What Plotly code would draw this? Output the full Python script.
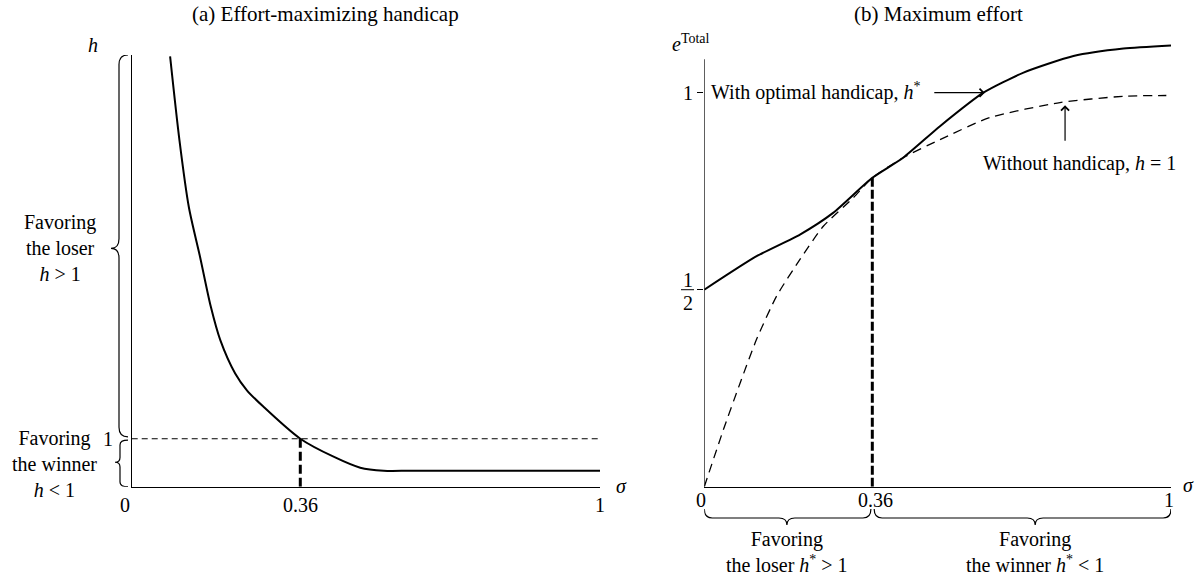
import plotly.graph_objects as go

W, H = 1196, 587
FONT = dict(family="Liberation Serif, Times New Roman, serif", size=20, color="black")

# ---------------- data ----------------
# Panel (a): effort-maximizing handicap h*(sigma)
sigma_a = [0.082, 0.102, 0.122, 0.146, 0.169, 0.189, 0.221, 0.246, 0.281, 0.36, 0.431, 0.488, 0.538, 0.6, 1.0]
h_opt = [8.97, 7.22, 5.83, 4.79, 3.75, 3.06, 2.36, 2.01, 1.67, 1.0, 0.625, 0.396, 0.333, 0.333, 0.333]

# Panel (b): maximum total effort
sigma_b = [0.0, 0.112, 0.205, 0.276, 0.36, 0.426, 0.505, 0.598, 0.684, 0.791, 0.898, 1.0]
e_opt = [0.5, 0.585, 0.640, 0.695, 0.784, 0.835, 0.915, 1.0, 1.051, 1.093, 1.112, 1.12]
sigma_nh = [0.0, 0.041, 0.077, 0.112, 0.155, 0.205, 0.255, 0.319, 0.36, 0.426, 0.505, 0.612, 0.762, 0.898, 0.99]
e_nh = [0.0, 0.145, 0.264, 0.374, 0.484, 0.577, 0.661, 0.733, 0.784, 0.835, 0.881, 0.937, 0.975, 0.991, 0.993]

sigma_star = 0.36
h_ref = 1.0
e_star = 0.784
x_tick_vals = [0, 0.36, 1]
x_tick_text = ["0", "0.36", "1"]


def px(x):
    return x / W


def py(y):
    return 1 - y / H


fig = go.Figure()

# ---- panel (a) ----
fig.add_trace(go.Scatter(x=[0, 1], y=[h_ref, h_ref], mode="lines", xaxis="x", yaxis="y",
                         line=dict(color="black", width=1.2, dash="6px,4px"), hoverinfo="skip"))
fig.add_trace(go.Scatter(x=[sigma_star, sigma_star], y=[0, h_ref], mode="lines", xaxis="x", yaxis="y",
                         line=dict(color="black", width=3, dash="9px,4px"), hoverinfo="skip"))
fig.add_trace(go.Scatter(x=sigma_a, y=h_opt, mode="lines", xaxis="x", yaxis="y",
                         line=dict(color="black", width=2, shape="spline", smoothing=0.8)))

# ---- panel (b) ----
fig.add_trace(go.Scatter(x=sigma_nh, y=e_nh, mode="lines", xaxis="x2", yaxis="y2",
                         line=dict(color="black", width=1.3, dash="9px,6px", shape="spline", smoothing=0.6)))
fig.add_trace(go.Scatter(x=[sigma_star, sigma_star], y=[0, e_star], mode="lines", xaxis="x2", yaxis="y2",
                         line=dict(color="black", width=3, dash="9px,3px"), hoverinfo="skip"))
fig.add_trace(go.Scatter(x=sigma_b, y=e_opt, mode="lines", xaxis="x2", yaxis="y2",
                         line=dict(color="black", width=2, shape="spline", smoothing=0.6)))

ax_common = dict(showgrid=False, zeroline=False, linecolor="black", linewidth=1,
                 fixedrange=True, showticklabels=False)
y_bottom = py(486.7)

fig.update_layout(
    width=W, height=H,
    margin=dict(l=0, r=0, t=0, b=0),
    paper_bgcolor="white", plot_bgcolor="white",
    showlegend=False,
    font=FONT,
    xaxis=dict(domain=[px(131.7), px(600)], range=[0, 1], anchor="y", showline=True, ticks="", **ax_common),
    yaxis=dict(domain=[y_bottom, py(55)], range=[0, 9], anchor="x", showline=True, ticks="", **ax_common),
    xaxis2=dict(domain=[px(704.3), px(1171)], range=[0, 1], anchor="y2", showline=True,
                ticks="inside", tickvals=[1], ticklen=5, tickcolor="black", **ax_common),
    yaxis2=dict(domain=[y_bottom, py(41.5)], range=[0, 1.13], anchor="x2", showline=False,
                ticks="outside", tickvals=[0.5, 1], ticklen=6, tickcolor="black", tickwidth=1.2, **ax_common),
)

shapes = []
# right y-axis line (stops below the top of the solid curve)
shapes.append(dict(type="line", xref="x2", yref="y2", x0=0, x1=0, y0=0, y1=1.085,
                   line=dict(color="black", width=1.2)))
# fraction bar for 1/2
shapes.append(dict(type="line", xref="paper", yref="y2", x0=px(681), x1=px(694), y0=0.5, y1=0.5,
                   line=dict(color="black", width=1)))


def vbrace(x_end, x_line, x_tip, y_lo, y_hi, y_tip, r):
    return (f"M {x_end},{y_hi} Q {x_line},{y_hi} {x_line},{y_hi - r} "
            f"L {x_line},{y_tip + r} Q {x_line},{y_tip} {x_tip},{y_tip} "
            f"Q {x_line},{y_tip} {x_line},{y_tip - r} "
            f"L {x_line},{y_lo + r} Q {x_line},{y_lo} {x_end},{y_lo}")


def hbrace(x_lo, x_hi, x_tip, y_end, y_line, y_tip, r):
    return (f"M {x_lo},{y_end} Q {x_lo},{y_line} {x_lo + r},{y_line} "
            f"L {x_tip - r},{y_line} Q {x_tip},{y_line} {x_tip},{y_tip} "
            f"Q {x_tip},{y_line} {x_tip + r},{y_line} "
            f"L {x_hi - r},{y_line} Q {x_hi},{y_line} {x_hi},{y_end}")


# left braces (x in paper, y in data)
shapes.append(dict(type="path", xref="paper", yref="y",
                   path=vbrace(px(128), px(119), px(111), 1.04, 9.0, 4.97, 0.2),
                   line=dict(color="black", width=1.2)))
shapes.append(dict(type="path", xref="paper", yref="y",
                   path=vbrace(px(128), px(120), px(115), 0.0, 0.97, 0.51, 0.1),
                   line=dict(color="black", width=1.2)))
# bottom braces on panel (b) (x in data, y in paper)
shapes.append(dict(type="path", xref="x2", yref="paper",
                   path=hbrace(0.0, sigma_star - 0.003, 0.177, py(509), py(518), py(525), 0.017),
                   line=dict(color="black", width=1.2)))
shapes.append(dict(type="path", xref="x2", yref="paper",
                   path=hbrace(sigma_star + 0.004, 1.0, 0.709, py(509), py(518), py(525), 0.017),
                   line=dict(color="black", width=1.2)))
fig.update_layout(shapes=shapes)

ann = []


def text(x, y, s, xref="paper", yref="paper", xanchor="center", yanchor="middle", size=20, **kw):
    ann.append(dict(x=x, y=y, xref=xref, yref=yref, text=s, showarrow=False,
                    xanchor=xanchor, yanchor=yanchor, font=dict(FONT, size=size), **kw))


# titles
text(px(325), py(14), "(a) Effort-maximizing handicap", size=21)
text(px(938), py(14), "(b) Maximum effort", size=21)

# panel (a) labels
text(px(93), py(45), "<i>h</i>")
text(px(60), py(248), "Favoring<br>the loser<br><i>h</i> &gt; 1")
text(px(54), py(464), "Favoring<br>the winner<br><i>h</i> &lt; 1")
text(px(108), h_ref, "1", yref="y")
for v, t in zip(x_tick_vals, x_tick_text):
    text(v, py(505), t, xref="x", xshift=-7 if v == 0 else 0)
text(px(621), py(486), "<i>σ</i>")

# panel (b) labels
text(px(670), py(43), "<i>e</i><sup>Total</sup>", xanchor="left")
text(px(688), 1.0, "1", yref="y2")
text(px(687.5), py(280), "1")
text(px(687.5), py(303), "2")
for v, t in zip(x_tick_vals, x_tick_text):
    text(v, py(500), t, xref="x2", xshift=-3 if v == 0 else (3 if v == sigma_star else -2))
text(px(1188), py(485), "<i>σ</i>")

text(px(709), py(91), "With optimal handicap, <i>h</i><sup>*</sup>", xanchor="left")
text(px(1079), py(163), "Without handicap, <i>h</i> = 1")

text(0.177, py(552), "Favoring<br>the loser <i>h</i><sup>*</sup> &gt; 1", xref="x2")
text(0.709, py(552), "Favoring<br>the winner <i>h</i><sup>*</sup> &lt; 1", xref="x2")

# arrows
ann.append(dict(x=0.601, y=1.0, xref="x2", yref="y2", text="", showarrow=True,
                ax=-52, ay=0, arrowhead=4, arrowsize=1.3, arrowwidth=1.2, arrowcolor="black", standoff=0))
ann.append(dict(x=0.773, y=0.968, xref="x2", yref="y2", text="", showarrow=True,
                ax=0, ay=37, arrowhead=4, arrowsize=1.3, arrowwidth=1.2, arrowcolor="black", standoff=0))

fig.update_layout(annotations=ann)

fig.write_html("out.html", config={"displayModeBar": False, "staticPlot": True},
               post_script="document.body.style.margin='0';document.body.style.overflow='hidden';")
